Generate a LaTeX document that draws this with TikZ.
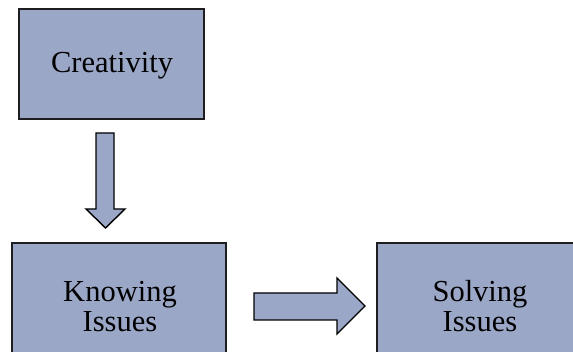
\documentclass[tikz,border=0pt]{standalone}
\usepackage{fontspec}
\setmainfont{Liberation Serif}
\newfontfamily\tnr{Liberation Serif}
\definecolor{boxfill}{RGB}{155,167,199}
\definecolor{boxline}{RGB}{30,30,34}
\tikzset{
  blk/.style={fill=boxfill, draw=boxline, line width=1.8pt},
  blkarrow/.style={fill=boxfill, draw=black, line width=1.4pt, line join=miter},
  lbl/.style={font=\tnr\fontsize{30.5}{30.5}\selectfont, align=center, text=black, inner sep=0pt}
}
\begin{document}
\begin{tikzpicture}[x=1pt,y=-1pt]
\useasboundingbox (0,0) rectangle (573,352);
\clip (0,0) rectangle (573,352);
\fill[white] (0,0) rectangle (573,352);
% boxes
\draw[blk] (19,9) rectangle (204,119);
\draw[blk] (12,243) rectangle (226,372);
\draw[blk] (377,243) rectangle (584,372);
\node[lbl, anchor=base] (creat) at (112,73) {Creativity};
\node[lbl, anchor=base] (know) at (120,332) {Knowing\\Issues};
\node[lbl, anchor=base] (solv) at (480,332) {Solving\\Issues};
% down block arrow
\draw[blkarrow] (96,133) -- (114,133) -- (114,209) -- (125,209) -- (105.5,228) -- (86,209) -- (96,209) -- cycle;
% right block arrow
\draw[blkarrow] (254,293) -- (337,293) -- (337,278) -- (365,306) -- (337,334) -- (337,320) -- (254,320) -- cycle;
\end{tikzpicture}
\end{document}
